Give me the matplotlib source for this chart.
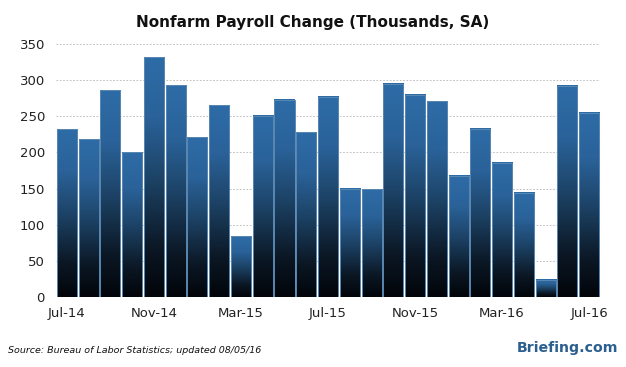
import numpy as np
import matplotlib.pyplot as plt
from matplotlib.colors import LinearSegmentedColormap

months = ["Jul-14", "Aug-14", "Sep-14", "Oct-14", "Nov-14", "Dec-14",
          "Jan-15", "Feb-15", "Mar-15", "Apr-15", "May-15", "Jun-15",
          "Jul-15", "Aug-15", "Sep-15", "Oct-15", "Nov-15", "Dec-15",
          "Jan-16", "Feb-16", "Mar-16", "Apr-16", "May-16", "Jun-16", "Jul-16"]
payrolls = [232, 218, 286, 200, 332, 293, 221, 265, 84, 251, 273, 228,
            277, 150, 149, 295, 280, 271, 168, 233, 186, 144, 24, 292, 255]
yticks = [0, 50, 100, 150, 200, 250, 300, 350]

# dark at the base, blue at the top of each bar
grad_cmap = LinearSegmentedColormap.from_list(
    "bar", [(0, "#02050a"), (0.2, "#0b1724"), (0.5, "#1d4468"),
            (0.75, "#2a6299"), (1, "#2e6ca7")])

fig = plt.figure(figsize=(6.26, 3.67), dpi=100)
ax = fig.add_axes([0.0895, 0.1907, 0.869, 0.6893])

x = np.arange(len(payrolls))
w = 0.92
grad = np.linspace(0, 1, 256).reshape(-1, 1)
for xi, v in zip(x, payrolls):
    ax.imshow(grad, extent=[xi - w / 2, xi + w / 2, 0, v], origin="lower",
              aspect="auto", cmap=grad_cmap, zorder=2)
ax.bar(x, payrolls, width=w, fill=False, edgecolor="#5a88b2", linewidth=0.7, zorder=3)

ax.set_xlim(-0.5, len(payrolls) - 0.5)
ax.set_ylim(0, 350)
ax.set_yticks(yticks)
ax.yaxis.grid(True, linestyle=(0, (2, 2)), color="#b5b5b5", linewidth=0.6, zorder=0)
ax.set_axisbelow(True)
for s in ax.spines.values():
    s.set_visible(False)

tick_idx = list(range(0, len(months), 4))
ax.set_xticks(tick_idx)
ax.set_xticklabels([months[i] for i in tick_idx])
ax.tick_params(length=0, labelsize=9.5, colors="#222222")
ax.tick_params(axis="x", pad=7)
ax.tick_params(axis="y", pad=8)

fig.text(0.5, 0.94, "Nonfarm Payroll Change (Thousands, SA)", ha="center", va="center",
         fontsize=11, fontweight="bold", color="#111111")
fig.text(0.013, 0.045, "Source: Bureau of Labor Statistics; updated 08/05/16",
         ha="left", va="center", fontsize=6.8, style="italic", color="#111111")
fig.text(0.988, 0.052, "Briefing.com", ha="right", va="center", fontsize=10.2,
         fontweight="bold", color="#2b5f8f")

fig.savefig("out.png", dpi=100)
